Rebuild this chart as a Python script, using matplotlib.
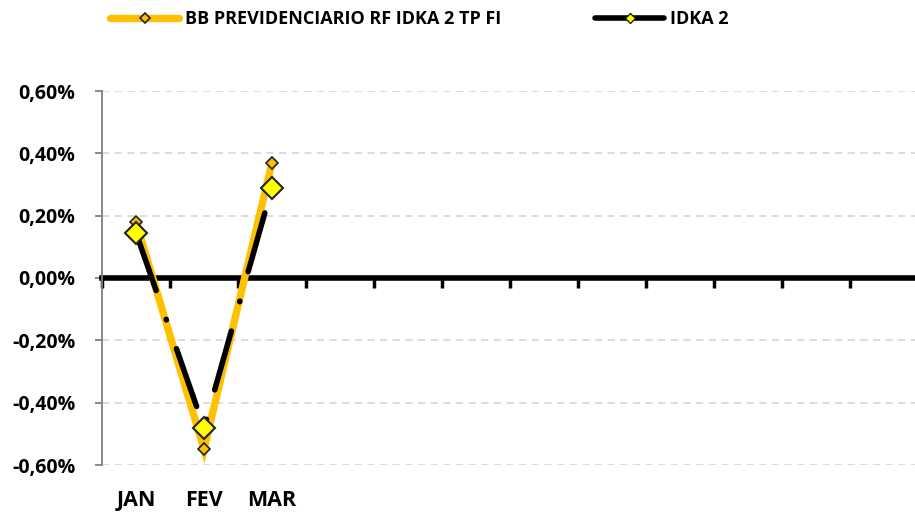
import matplotlib.pyplot as plt
import matplotlib.transforms as mtransforms
import numpy as np

meses = ['JAN', 'FEV', 'MAR', '', '', '', '', '', '', '', '', '']
fundo_nome = 'BB PREVIDENCIARIO RF IDKA 2 TP FI'
indice_nome = 'IDKA 2'
fundo = [0.18, -0.55, 0.37]   # % ao mes
indice = [0.145, -0.48, 0.29]
yticks = [-0.6, -0.4, -0.2, 0.0, 0.2, 0.4, 0.6]

plt.rcParams['font.family'] = ['Open Sans', 'DejaVu Sans']
plt.rcParams['font.weight'] = 'bold'

fig = plt.figure(figsize=(9.15, 5.12), dpi=100)
ax = fig.add_axes([102 / 915, 47 / 512, 816 / 915, 374 / 512])

x = np.arange(len(fundo))
ax.plot(x, fundo, color='#FFC000', lw=5.3, marker='D', ms=6.5,
        mfc='#FFC000', mec='#222222', mew=1.2, zorder=3, label=fundo_nome,
        solid_joinstyle='miter')
ax.plot(x, indice, color='black', lw=4, ls=(0, (11, 5.5, 0.1, 5.5)),
        dash_capstyle='round', zorder=4, label=indice_nome)
ax.plot(x, indice, ls='none', marker='D', ms=11, mfc='#FFFF00',
        mec='#222222', mew=1.5, zorder=5)

ax.set_xlim(-0.5, len(meses) - 0.5)
ax.set_ylim(-0.6, 0.6)
ax.set_yticks(yticks)
ax.set_yticklabels([('%.2f%%' % v).replace('.', ',') for v in yticks],
                   fontsize=14, fontweight='bold')
ax.yaxis.grid(True, color='#D9D9D9', ls=(0, (4, 3)), lw=1.3)
ax.set_axisbelow(True)

for s in ['top', 'right']:
    ax.spines[s].set_visible(False)
ax.spines['left'].set_color('#808080')
ax.spines['left'].set_linewidth(1.3)
ax.tick_params(axis='y', colors='#808080', length=5, width=1.3,
               labelcolor='black', pad=14)

# eixo x na linha do zero
ax.spines['bottom'].set_position(('data', 0))
ax.spines['bottom'].set_linewidth(4)
ax.spines['bottom'].set_color('black')
ax.spines['bottom'].set_zorder(2)
ax.set_xticks(np.arange(len(meses) + 1) - 0.5)
ax.set_xticklabels([])
ax.tick_params(axis='x', direction='out', length=7, width=2.5, colors='black')

trans = mtransforms.blended_transform_factory(ax.transData, ax.transAxes)
for i, m in enumerate(meses):
    ax.text(i, -0.095, m, transform=trans, ha='center', va='center',
            fontsize=15.5, fontweight='bold')

leg = fig.legend(loc='center left', bbox_to_anchor=(94 / 915, 1 - 19 / 512),
                 ncol=2, frameon=False, handlelength=3.8, columnspacing=5.2,
                 prop={'weight': 'bold', 'size': 13}, handletextpad=0.35)
leg.legend_handles[0].set_markersize(5.5)
leg.legend_handles[1].set_marker('D')
leg.legend_handles[1].set_markersize(5)
leg.legend_handles[1].set_markerfacecolor('#FFFF00')
leg.legend_handles[1].set_markeredgecolor('#222222')
leg.legend_handles[1].set_linestyle('-')
leg.legend_handles[1].set_solid_capstyle('round')
leg.legend_handles[0].set_solid_capstyle('round')

fig.savefig('out.png', dpi=100)
